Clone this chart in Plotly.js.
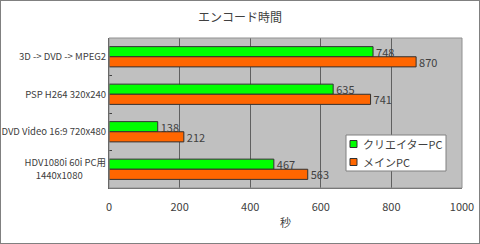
<!DOCTYPE html>
<html><head><meta charset="utf-8">
<script src="https://cdn.plot.ly/plotly-3.0.1.min.js"></script>
<style>
html,body{margin:0;padding:0;background:#fff;}
#wrap{position:relative;width:480px;height:244px;}
#chart{width:480px;height:244px;}
#frame{position:absolute;left:0;top:0;width:478px;height:242px;border:1px solid #808080;pointer-events:none;}
</style></head>
<body>
<div id="wrap"><div id="chart"></div><div id="frame"></div></div>
<script>
const categories = ["3D -> DVD -> MPEG2", "PSP H264 320x240", "DVD Video 16:9 720x480", "HDV1080i 60i PC用<br>1440x1080&#160;&#160;&#160;&#160;&#160;&#160;&#160;&#160;&#160;&#160;&#160;"];
const creatorPC = [748, 635, 138, 467];
const mainPC = [870, 741, 212, 563];
const seriesNames = ["クリエイターPC", "メインPC"];
const seriesColors = ["#00ff00", "#ff6600"];
const xTicks = [0, 200, 400, 600, 800, 1000];

const font = "'Noto Sans CJK JP', 'DejaVu Sans', sans-serif";
const W = 480, H = 244, L = 109, R = 18, T = 38, B = 56;
const pw = W - L - R, ph = H - T - B;
const px = x => (x - L) / pw;          // pixel -> paper x
const py = y => (H - B - y) / ph;      // pixel -> paper y

const common = {
  type: 'bar', orientation: 'h', textposition: 'outside', cliponaxis: false,
  constraintext: 'none', textfont: {size: 11, color: '#404040', family: font},
  hoverinfo: 'none', showlegend: false
};
const values = [creatorPC, mainPC];
const data = values.map((v, i) => Object.assign({}, common, {
  name: seriesNames[i], y: categories, x: v, text: v.map(String),
  marker: {color: seriesColors[i], line: {color: '#303030', width: 1}}
}));

// legend drawn as shapes + annotations
const legShapes = [{type: 'rect', xref: 'paper', yref: 'paper', x0: px(346), x1: px(446), y0: py(171), y1: py(135),
  line: {color: '#808080', width: 1}, fillcolor: '#ffffff', layer: 'above'}];
const legAnn = [];
seriesNames.forEach((n, i) => {
  const cy = 144 + i * 18;
  legShapes.push({type: 'rect', xref: 'paper', yref: 'paper', x0: px(350), x1: px(357), y0: py(cy + 3.5), y1: py(cy - 3.5),
    line: {color: '#303030', width: 1}, fillcolor: seriesColors[i], layer: 'above'});
  legAnn.push({xref: 'paper', yref: 'paper', x: px(361), y: py(cy), xanchor: 'left', yanchor: 'middle', showarrow: false,
    text: n, font: {size: 11, color: '#404040', family: font}});
});

const layout = {
  width: W, height: H,
  margin: {l: L, r: R, t: T, b: B},
  paper_bgcolor: '#ffffff', plot_bgcolor: '#c0c0c0',
  font: {family: font, color: '#404040', size: 11},
  barmode: 'group', bargap: 0.46, bargroupgap: 0,
  showlegend: false,
  title: {text: 'エンコード時間', x: 0.5, xref: 'container', xanchor: 'center', y: 1 - 18/244, yanchor: 'middle', font: {size: 12, color: '#404040', family: font}},
  xaxis: {range: [0, 1000], tickvals: xTicks, ticktext: xTicks.map(String), showgrid: true, gridcolor: '#606060', gridwidth: 1,
    zeroline: false, ticks: 'outside', ticklen: 9, tickcolor: 'rgba(0,0,0,0)', tickfont: {size: 11, color: '#404040'},
    showline: true, linecolor: '#606060', mirror: false,
    title: {text: '秒', font: {size: 11, color: '#404040'}, standoff: 6}},
  yaxis: {autorange: 'reversed', type: 'category', tickson: 'boundaries', ticks: 'inside', ticklen: 3, tickcolor: '#404040',
    showline: true, linecolor: '#404040', showgrid: false, tickfont: {size: 9.5, color: '#404040'}},
  shapes: [{type: 'rect', xref: 'paper', yref: 'paper', x0: 0, x1: 1, y0: 0, y1: 1, line: {color: '#909090', width: 1}, fillcolor: 'rgba(0,0,0,0)', layer: 'above'}].concat(legShapes),
  annotations: legAnn
};
Plotly.newPlot('chart', data, layout, {staticPlot: true, displayModeBar: false});
</script>
</body></html>
